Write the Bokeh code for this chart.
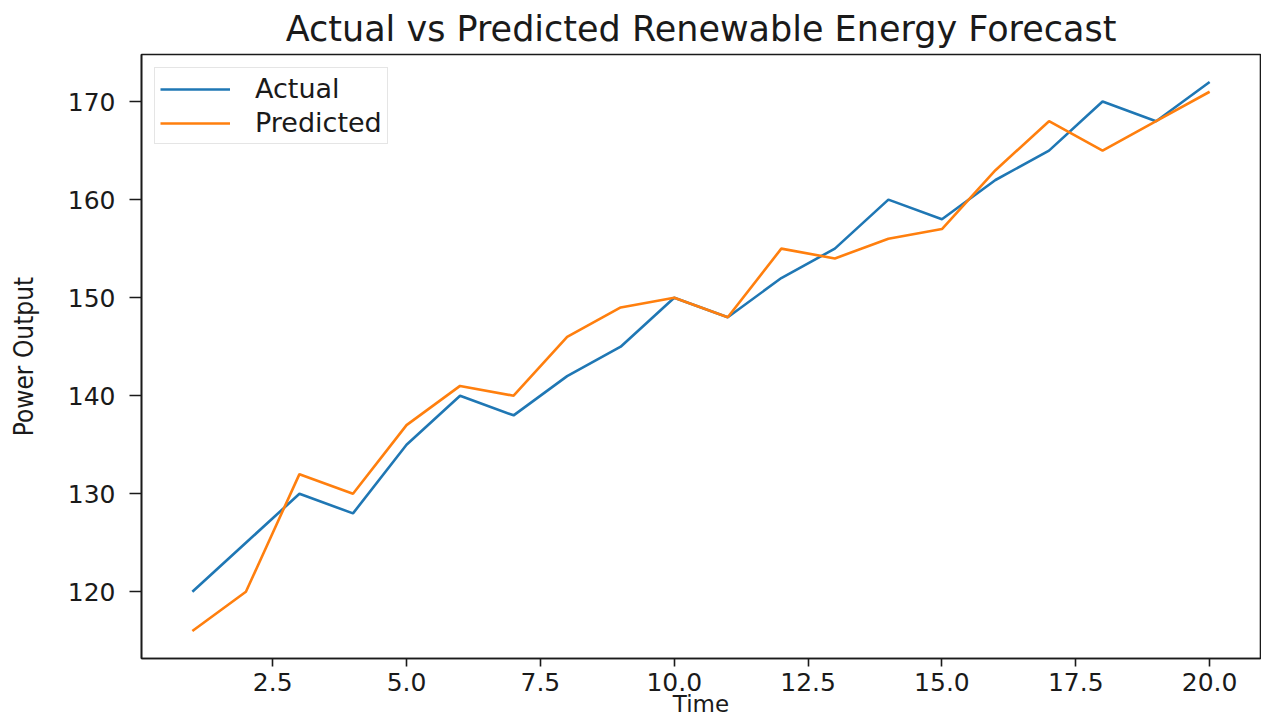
from bokeh.plotting import figure
from bokeh.models import FixedTicker, NumeralTickFormatter, Legend, LegendItem, Range1d
from bokeh.embed import file_html
from bokeh.resources import INLINE

time = list(range(1, 21))
actual = [120, 125, 130, 128, 135, 140, 138, 142, 145, 150,
          148, 152, 155, 160, 158, 162, 165, 170, 168, 172]
predicted = [116, 120, 132, 130, 137, 141, 140, 146, 149, 150,
             148, 155, 154, 156, 157, 163, 168, 165, 168, 171]
x_ticks = [2.5, 5.0, 7.5, 10.0, 12.5, 15.0, 17.5, 20.0]
y_ticks = [120, 130, 140, 150, 160, 170]

title_text = "Actual vs Predicted Renewable Energy Forecast"
x_label = "Time"
y_label = "Power Output"

xmin, xmax = min(time), max(time)
ymin, ymax = min(actual + predicted), max(actual + predicted)
xpad = (xmax - xmin) * 0.05
ypad = (ymax - ymin) * 0.05

p = figure(width=1261, height=724, output_backend="svg", toolbar_location=None,
           x_range=Range1d(xmin - xpad, xmax + xpad),
           y_range=Range1d(ymin - ypad, ymax + ypad),
           min_border_left=141, min_border_right=1, min_border_top=53, min_border_bottom=66,
           title=title_text)

p.title.align = "center"
p.title.text_font = "DejaVu Sans"
p.title.text_font_size = "35px"
p.title.text_font_style = "normal"
p.title.text_color = "#1a1a1a"
p.title.standoff = 12

blue = "#1f77b4"
orange = "#ff7f0e"
r1 = p.line(time, actual, line_color=blue, line_width=2.6)
r2 = p.line(time, predicted, line_color=orange, line_width=2.6)

p.xgrid.visible = False
p.ygrid.visible = False
p.outline_line_color = "#1a1a1a"
p.outline_line_width = 1.6

for ax in (p.xaxis[0], p.yaxis[0]):
    ax.axis_line_color = "#1a1a1a"
    ax.axis_line_width = 1.6
    ax.major_tick_line_color = "#1a1a1a"
    ax.major_tick_line_width = 1.6
    ax.major_tick_in = 0
    ax.minor_tick_line_color = None
    ax.major_label_text_font = "DejaVu Sans"
    ax.major_label_text_font_size = "25px"
    ax.major_label_text_color = "#1a1a1a"

p.xaxis.ticker = FixedTicker(ticks=x_ticks)
p.xaxis.formatter = NumeralTickFormatter(format="0.0")
p.xaxis.major_tick_out = 8
p.xaxis.major_label_standoff = 6
p.xaxis.axis_label = x_label
p.xaxis.axis_label_text_font = "DejaVu Sans"
p.xaxis.axis_label_text_font_size = "23px"
p.xaxis.axis_label_text_font_style = "normal"
p.xaxis.axis_label_text_color = "#1a1a1a"
p.xaxis.axis_label_standoff = -3

p.yaxis.ticker = FixedTicker(ticks=y_ticks)
p.yaxis.major_tick_out = 12
p.yaxis.major_label_standoff = 14
p.yaxis.axis_label = y_label
p.yaxis.axis_label_text_font = "DejaVu Sans Condensed, Roboto Condensed, Roboto"
p.yaxis.axis_label_text_font_size = "26px"
p.yaxis.axis_label_text_font_style = "normal"
p.yaxis.axis_label_text_color = "#1a1a1a"
p.yaxis.axis_label_standoff = 26

legend = Legend(items=[LegendItem(label="Actual", renderers=[r1]),
                       LegendItem(label="Predicted", renderers=[r2])],
                location="top_left")
legend.margin = 13
legend.padding = 5
legend.spacing = 3
legend.glyph_width = 70
legend.glyph_height = 28
legend.label_height = 28
legend.label_standoff = 25
legend.label_text_font = "DejaVu Sans"
legend.label_text_font_size = "27px"
legend.label_text_color = "#1a1a1a"
legend.border_line_color = "#cccccc"
legend.border_line_width = 1.2
legend.background_fill_alpha = 0.8
p.add_layout(legend)

open("out.html", "w").write(file_html(p, INLINE))
